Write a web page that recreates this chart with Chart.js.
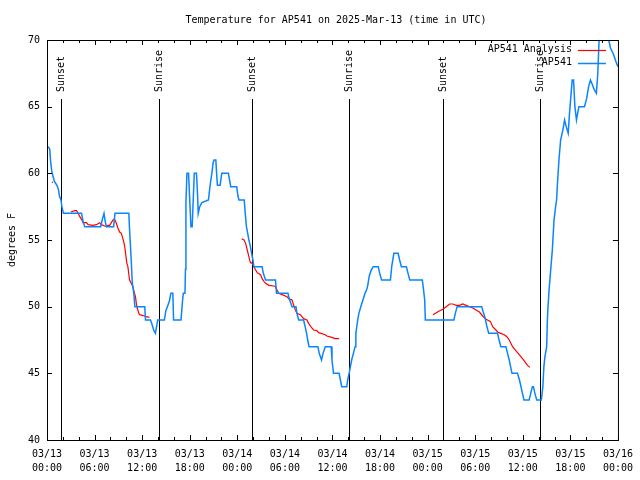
<!DOCTYPE html>
<html>
<head>
<meta charset="utf-8">
<script src="https://cdn.jsdelivr.net/npm/chart.js@4"></script>
<style>
  html, body { margin: 0; padding: 0; background: #fff; }
  canvas { display: block; }
</style>
</head>
<body>
<canvas id="tempChart" width="640" height="480"></canvas>
<script>
// hours since 03/13 00:00 UTC
const obsHours = [0.16, 0.35, 0.44, 0.59, 0.75, 0.94, 1.25, 1.44, 1.57, 1.76, 1.88, 2.07, 4.35, 4.58, 4.77,
  6.77, 6.96, 7.19, 7.34, 7.49, 8.40, 8.57, 10.32, 10.41, 10.62, 10.75, 10.95, 11.08, 12.33, 12.42,
  13.05, 13.23, 13.48, 13.67, 13.96, 14.80, 14.99, 15.18, 15.43, 15.62, 15.87, 15.96, 16.90, 17.10,
  17.19, 17.40, 17.46, 17.52, 17.65, 17.85, 18.00, 18.15, 18.31, 18.44, 18.57, 18.85, 18.98, 19.07,
  19.26, 19.53, 20.36, 20.55, 20.66, 20.79, 20.95, 21.07, 21.29, 21.39, 21.49, 21.83, 22.04, 22.87,
  23.02, 23.17, 23.92, 24.08, 24.21, 24.87, 25.00, 25.15, 25.31, 25.46, 25.65, 25.80, 25.97, 26.09,
  27.13, 27.28, 27.56, 28.81, 28.94, 30.39, 30.54, 30.73, 30.90, 31.40, 31.52, 31.74, 32.36, 32.55,
  32.74, 32.87, 33.05, 34.16, 34.33, 34.62, 34.81, 35.09, 35.84, 35.94, 36.13, 36.84, 37.00, 37.17,
  37.80, 37.92, 38.10, 38.26, 38.42, 38.64, 38.85, 38.95, 39.18, 39.33, 39.48, 39.68, 39.89, 40.10,
  40.33, 40.45, 40.64, 40.86, 41.14, 41.77, 41.96, 42.19, 43.31, 43.47, 43.74, 44.28, 44.47, 44.69,
  45.32, 45.53, 45.75, 47.33, 47.48, 47.63, 47.71, 51.31, 51.49, 51.72, 54.82, 55.01, 55.23, 55.44,
  55.70, 56.82, 57.01, 57.24, 57.87, 58.08, 58.29, 58.46, 58.64, 59.33, 59.58, 59.77, 59.96, 60.15,
  60.80, 61.00, 61.21, 61.34, 61.53, 61.76, 62.34, 62.53, 62.66, 62.78, 63.01, 63.10, 63.18, 63.31,
  63.51, 63.72, 63.94, 64.14, 64.26, 64.35, 64.56, 64.77, 65.07, 65.27, 65.48, 65.73, 65.89, 66.23,
  66.40, 66.57, 66.77, 67.07, 67.78, 68.05, 68.30, 68.53, 68.74, 68.99, 69.28, 69.46, 69.62, 70.12,
  70.84, 71.06, 71.46, 71.73, 72.00];
const obsTemps = [62.0, 61.8, 61.0, 60.2, 59.8, 59.4, 59.1, 58.8, 58.3, 58.0, 57.5, 57.0, 57.0, 56.3, 56.0,
  56.0, 56.5, 57.0, 56.4, 56.0, 56.0, 57.0, 57.0, 55.8, 53.5, 51.8, 51.0, 50.0, 50.0, 49.0,
  49.0, 48.7, 48.2, 48.0, 49.0, 49.0, 49.7, 50.0, 50.4, 51.0, 51.0, 49.0, 49.0, 50.5,
  51.0, 51.0, 52.8, 57.8, 60.0, 60.0, 58.0, 56.0, 56.0, 58.0, 60.0, 60.0, 58.5, 57.0,
  57.5, 57.8, 58.0, 59.0, 59.5, 60.0, 60.8, 61.0, 61.0, 60.0, 59.1, 59.1, 60.0, 60.0,
  59.5, 59.0, 59.0, 58.3, 58.0, 58.0, 57.0, 56.0, 55.5, 55.0, 54.5, 54.0, 53.5, 53.0,
  53.0, 52.5, 52.0, 52.0, 51.0, 51.0, 50.6, 50.3, 50.0, 50.0, 49.5, 49.0, 49.0, 48.5,
  48.0, 47.5, 47.0, 47.0, 46.5, 46.0, 46.5, 47.0, 47.0, 46.0, 45.0, 45.0, 44.5, 44.0,
  44.0, 44.5, 45.0, 45.5, 46.0, 46.5, 47.0, 48.0, 49.0, 49.5, 49.8, 50.2, 50.6, 51.0,
  51.3, 51.6, 52.3, 52.7, 53.0, 53.0, 52.5, 52.0, 52.0, 53.0, 54.0, 54.0, 53.5, 53.0,
  53.0, 52.5, 52.0, 52.0, 51.3, 50.5, 49.0, 49.0, 49.5, 50.0, 50.0, 49.6, 49.2, 48.6,
  48.0, 48.0, 47.5, 47.0, 47.0, 46.5, 46.0, 45.5, 45.0, 45.0, 44.5, 44.0, 43.5, 43.0,
  43.0, 43.5, 44.0, 44.0, 43.5, 43.0, 43.0, 44.0, 45.5, 46.2, 47.0, 49.0, 50.0, 51.2,
  52.7, 54.2, 56.5, 57.5, 58.0, 59.0, 61.0, 62.5, 63.3, 64.0, 63.5, 63.0, 64.5, 67.0,
  67.0, 65.0, 64.0, 65.0, 65.0, 65.6, 66.5, 67.0, 66.7, 66.3, 66.0, 67.5, 70.0, 71.0,
  70.0, 69.4, 68.9, 68.4, 68.0];

// analysis series, null temp = gap
const anHours = [0.63, 0.75, 1.5,
  3.01, 3.51, 3.73, 3.93, 4.14, 4.35, 4.55, 4.98, 5.18, 5.81, 6.23, 6.65, 6.86, 7.28, 7.49, 7.69,
  7.90, 8.12, 8.32, 8.53, 8.74, 8.94, 9.16, 9.37, 9.57, 9.78, 9.91, 10.07, 10.20, 10.41, 10.62,
  10.83, 11.04, 11.16, 11.26, 11.38, 11.58, 11.67, 12.29, 12.51, 12.92, 18.0,
  24.55, 24.84, 25.05, 25.25, 25.46, 25.59, 25.68, 25.88, 26.09, 26.31, 26.51, 26.93, 27.13, 27.35,
  27.56, 27.97, 28.60, 28.81, 29.01, 29.23, 29.64, 30.27, 30.48, 30.90, 31.11, 31.32, 31.52, 31.95,
  32.36, 32.78, 32.99, 33.40, 33.62, 34.03, 34.25, 35.09, 35.29, 35.91, 36.34, 36.84, 42.0,
  48.67, 49.09, 49.51, 49.93, 50.34, 50.77, 51.18, 51.59, 52.02, 52.43, 52.85, 53.27, 53.69, 54.10,
  54.53, 54.94, 55.36, 55.91, 56.20, 56.61, 56.82, 57.24, 57.66, 57.99, 58.29, 58.71, 59.12, 59.55,
  60.17, 60.59, 60.88];
const anTemps = [59.35, 59.3, null,
  57.1, 57.2, 57.2, 57.0, 56.75, 56.55, 56.3, 56.3, 56.15, 56.1, 56.15, 56.3, 56.15, 56.05, 56.0, 56.1,
  56.1, 56.3, 56.5, 56.55, 56.25, 55.9, 55.6, 55.5, 55.1, 54.6, 54.0, 53.25, 53.0, 52.0, 51.75,
  51.5, 51.0, 50.75, 50.25, 49.9, 49.5, 49.4, 49.3, 49.25, 49.2, null,
  55.1, 55.0, 54.75, 54.25, 53.75, 53.4, 53.3, 53.25, 53.0, 52.75, 52.55, 52.4, 52.1, 51.9,
  51.75, 51.6, 51.55, 51.5, 51.25, 51.0, 50.9, 50.75, 50.6, 50.5, 50.1, 49.75, 49.5, 49.4,
  49.1, 49.0, 48.75, 48.4, 48.25, 48.2, 48.05, 47.9, 47.8, 47.7, 47.6, 47.6, null,
  49.4, 49.55, 49.7, 49.8, 50.0, 50.2, 50.2, 50.1, 50.1, 50.2, 50.1, 50.0, 49.9, 49.75,
  49.6, 49.3, 49.05, 48.9, 48.5, 48.25, 48.1, 48.0, 47.9, 47.75, 47.5, 47.0, 46.7, 46.4,
  45.95, 45.6, 45.45];

const sunHours = [1.82, 14.08, 25.88, 38.05, 49.97, 62.13];
const sunLabels = ['Sunset', 'Sunrise', 'Sunset', 'Sunrise', 'Sunset', 'Sunrise'];

const xTickLabels = [
  ['03/13', '00:00'], ['03/13', '06:00'], ['03/13', '12:00'], ['03/13', '18:00'],
  ['03/14', '00:00'], ['03/14', '06:00'], ['03/14', '12:00'], ['03/14', '18:00'],
  ['03/15', '00:00'], ['03/15', '06:00'], ['03/15', '12:00'], ['03/15', '18:00'],
  ['03/16', '00:00']
];

const titleText = 'Temperature for AP541 on 2025-Mar-13 (time in UTC)';

const FONT = '10px "DejaVu Sans Mono", monospace';
Chart.defaults.font.family = '"DejaVu Sans Mono", monospace';
Chart.defaults.font.size = 10;
Chart.defaults.color = '#000';

// sunrise / sunset markers
const sunLines = {
  id: 'sunLines',
  beforeDatasetsDraw(chart) {
    const { ctx, chartArea: a, scales: { x } } = chart;
    ctx.save();
    ctx.strokeStyle = '#000';
    ctx.fillStyle = '#000';
    ctx.lineWidth = 1;
    ctx.font = FONT;
    sunHours.forEach((h, i) => {
      const px = Math.round(x.getPixelForValue(h)) + 0.5;
      ctx.beginPath();
      ctx.moveTo(px, a.top + 59);
      ctx.lineTo(px, a.bottom);
      ctx.stroke();
      ctx.save();
      ctx.translate(px, a.top + 52);
      ctx.rotate(-Math.PI / 2);
      ctx.textAlign = 'left';
      ctx.textBaseline = 'middle';
      ctx.fillText(sunLabels[i], 0, 0);
      ctx.restore();
    });
    ctx.restore();
  }
};

// gnuplot style border with inward ticks, title and key
const frame = {
  id: 'frame',
  afterDraw(chart) {
    const { ctx, chartArea: a, scales: { x, y } } = chart;
    ctx.save();
    ctx.strokeStyle = '#000';
    ctx.lineWidth = 1;
    ctx.strokeRect(a.left + 0.5, a.top + 0.5, a.width, a.height);
    ctx.beginPath();
    for (let h = x.min; h <= x.max; h += 2) {
      const px = Math.round(x.getPixelForValue(h)) + 0.5;
      const len = h % 6 === 0 ? 5 : 3;
      ctx.moveTo(px, a.bottom); ctx.lineTo(px, a.bottom - len);
      ctx.moveTo(px, a.top); ctx.lineTo(px, a.top + len);
    }
    y.ticks.forEach(t => {
      const py = Math.round(y.getPixelForValue(t.value)) + 0.5;
      ctx.moveTo(a.left, py); ctx.lineTo(a.left + 5, py);
      ctx.moveTo(a.right, py); ctx.lineTo(a.right - 5, py);
    });
    ctx.stroke();

    ctx.font = FONT;
    ctx.fillStyle = '#000';
    ctx.textAlign = 'center';
    ctx.textBaseline = 'middle';
    ctx.fillText(titleText, 336, a.top - 20);

    // key
    ctx.textAlign = 'right';
    chart.data.datasets.forEach((ds, i) => {
      const ky = a.top + 9.5 + i * 13;
      ctx.fillStyle = '#000';
      ctx.fillText(ds.label, a.right - 46, ky);
      ctx.strokeStyle = ds.borderColor;
      ctx.lineWidth = ds.borderWidth;
      ctx.beginPath();
      ctx.moveTo(a.right - 40, Math.round(ky) + 0.5);
      ctx.lineTo(a.right - 12, Math.round(ky) + 0.5);
      ctx.stroke();
    });
    ctx.restore();
  }
};

new Chart(document.getElementById('tempChart'), {
  type: 'line',
  data: {
    datasets: [
      {
        label: 'AP541 Analysis',
        data: anHours.map((h, i) => ({ x: h, y: anTemps[i] })),
        borderColor: '#ff0000',
        borderWidth: 1.2,
        pointRadius: 0,
        spanGaps: false,
        clip: 0,
        order: 1
      },
      {
        label: 'AP541',
        data: obsHours.map((h, i) => ({ x: h, y: obsTemps[i] })),
        borderColor: '#0a84ff',
        borderWidth: 1.5,
        pointRadius: 0,
        clip: 0,
        order: 0
      }
    ]
  },
  options: {
    responsive: false,
    animation: false,
    devicePixelRatio: 1,
    layout: { padding: { left: 0, right: 19, top: 40, bottom: 0 } },
    plugins: {
      legend: { display: false },
      tooltip: { enabled: false },
      title: { display: false }
    },
    scales: {
      x: {
        type: 'linear',
        min: 0,
        max: 72,
        grid: { display: false, drawTicks: false },
        border: { display: false },
        ticks: {
          stepSize: 6,
          autoSkip: false,
          maxRotation: 0,
          padding: 7,
          font: { size: 10, lineHeight: 1.4 },
          callback: v => xTickLabels[Math.round(v / 6)]
        },
        afterFit: s => { s.height = 40; }
      },
      y: {
        min: 40,
        max: 70,
        grid: { display: false, drawTicks: false },
        border: { display: false },
        ticks: { stepSize: 5, padding: 7 },
        title: {
          display: true,
          text: 'degrees F',
          font: { size: 10 },
          padding: { top: 6, bottom: 0 }
        },
        afterFit: s => { s.width = 47; }
      }
    }
  },
  plugins: [sunLines, frame]
});
</script>
</body>
</html>
